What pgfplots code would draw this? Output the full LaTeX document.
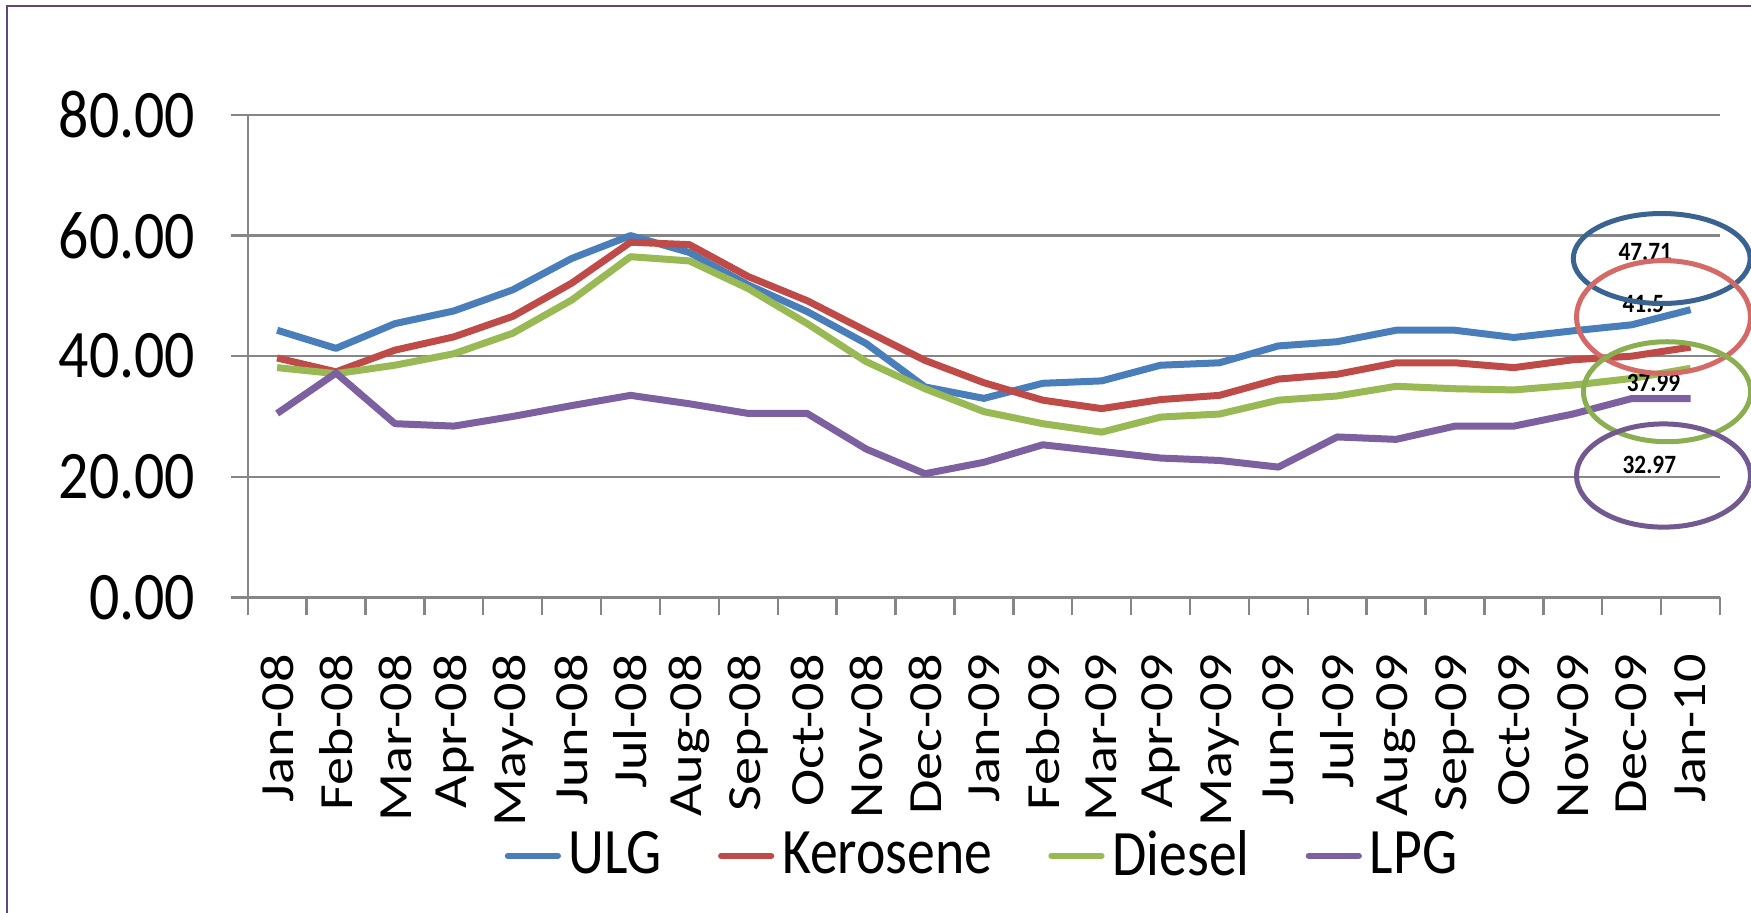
\documentclass[border=0pt]{standalone}
\usepackage{fontspec}
\setmainfont{Carlito}
\newfontfamily\hfont[FakeStretch=0.88]{Carlito}
\newfontfamily\lfont[FakeStretch=0.86]{Carlito}
\newfontfamily\vfont[FakeStretch=1.18]{Carlito}
\usepackage{pgfplots}
\usepackage{pgfplotstable}
\pgfplotsset{compat=1.18}
\definecolor{ulg}{HTML}{4A7EBB}
\definecolor{ker}{HTML}{BE4B48}
\definecolor{dsl}{HTML}{98B954}
\definecolor{lpg}{HTML}{7D60A0}
\definecolor{axgray}{HTML}{868686}
\definecolor{framecol}{HTML}{5F497A}
\definecolor{ellb}{HTML}{3A6391}
\definecolor{ellr}{HTML}{D46A67}
\definecolor{ellg}{HTML}{8BAF50}
\definecolor{ellp}{HTML}{72598F}
\pgfplotstableread{
x ulg ker dsl lpg
0 44.3 39.7 38.1 30.5
1 41.3 37.4 37.1 37.2
2 45.4 41.0 38.5 28.8
3 47.5 43.2 40.4 28.4
4 51.0 46.6 43.8 30.0
5 56.2 52.1 49.3 31.8
6 60.0 58.9 56.5 33.5
7 57.2 58.5 55.8 32.1
8 51.8 53.2 51.2 30.5
9 47.4 49.2 45.4 30.5
10 42.1 44.2 39.1 24.6
11 34.9 39.3 34.6 20.5
12 33.0 35.6 30.8 22.4
13 35.5 32.7 28.8 25.3
14 35.9 31.3 27.4 24.2
15 38.5 32.8 29.9 23.1
16 38.9 33.5 30.4 22.7
17 41.7 36.2 32.7 21.6
18 42.4 37.0 33.4 26.6
19 44.3 38.9 35.0 26.2
20 44.3 38.9 34.6 28.4
21 43.1 38.1 34.4 28.4
22 44.2 39.4 35.2 30.4
23 45.2 40.0 36.3 32.97
24 47.71 41.5 37.99 32.97
}\datatable
\begin{document}
\begin{tikzpicture}
\useasboundingbox (0,0) rectangle (437.75pt,228pt);
\begin{scope}
\clip (0,0) rectangle (437.75pt,228pt);
\draw[framecol, line width=0.55pt] (1.83pt,-2pt) -- (1.83pt,226.5pt) -- (440pt,226.5pt);
\end{scope}
\begin{axis}[
  at={(61.925pt,78.675pt)}, anchor=south west,
  scale only axis, width=368.08pt, height=120.575pt,
  xmin=-0.5, xmax=24.5, ymin=0, ymax=80,
  axis lines=left, axis line style={-, axgray, line width=0.6pt},
  clip=false,
  ytick={0,20,40,60,80},
  ymajorgrids, grid style={axgray, line width=0.55pt},
  tick align=outside,
  major tick length=4.25pt, minor tick length=4.5pt,
  tick style={axgray, line width=0.6pt},
  xtick={0,...,24},
  every major x tick/.append style={draw=none},
  minor xtick={-0.5,0.5,...,24.5},
  xticklabels={Jan-08,Feb-08,Mar-08,Apr-08,May-08,Jun-08,Jul-08,Aug-08,Sep-08,Oct-08,Nov-08,Dec-08,Jan-09,Feb-09,Mar-09,Apr-09,May-09,Jun-09,Jul-09,Aug-09,Sep-09,Oct-09,Nov-09,Dec-09,Jan-10},
  xticklabel style={yshift=-9.8pt, rotate=90, anchor=east, inner sep=0pt, font=\vfont\fontsize{11.9}{13}\selectfont},
  yticklabel style={xshift=-8.7pt, anchor=east, inner sep=0pt, font=\hfont\fontsize{17}{19}\selectfont},
  /pgf/number format/.cd, fixed, fixed zerofill, precision=2, assume math mode=true,
  /pgfplots/.cd,
  legend style={at={(axis description cs:0.5008,-0.536)}, anchor=center, draw=none, fill=none,
    font=\lfont\fontsize{16.2}{18}\selectfont, inner sep=0pt,
    /tikz/every even column/.append style={column sep=12pt}},
  legend columns=4,
  legend image code/.code={\draw[#1, line width=1.5pt, line cap=round] (0.75pt,0pt) -- (13.3pt,0pt);},
  every axis plot/.append style={line width=1.75pt, line join=round},
]
\addplot[ulg] table[x=x,y=ulg]{\datatable};
\addlegendentry{ULG}
\addplot[ker] table[x=x,y=ker]{\datatable};
\addlegendentry{Kerosene}
\addplot[dsl] table[x=x,y=dsl]{\datatable};
\addlegendentry{Diesel}
\addplot[lpg] table[x=x,y=lpg]{\datatable};
\addlegendentry{LPG}
\begin{scope}[every node/.style={font=\hfont\bfseries\fontsize{6.6}{7}\selectfont, inner sep=0pt}]
\node at (axis cs:23.23,57.3) {47.71};
\node at (axis cs:23.2,48.7) {41.5};
\node at (axis cs:23.37,35.5) {37.99};
\node at (axis cs:23.3,21.9) {32.97};
\end{scope}
\draw[ellb, line width=1.25pt] (axis cs:23.51,56.2) ellipse [x radius=22.1pt, y radius=11.25pt];
\draw[ellr, line width=1.25pt] (axis cs:23.54,46.5) ellipse [x radius=21.75pt, y radius=14.1pt];
\draw[ellg, line width=1.25pt] (axis cs:23.60,34.1) ellipse [x radius=20.9pt, y radius=12.5pt];
\draw[ellp, line width=1.25pt] (axis cs:23.54,20.2) ellipse [x radius=21.75pt, y radius=12.9pt];
\end{axis}
\end{tikzpicture}
\end{document}
